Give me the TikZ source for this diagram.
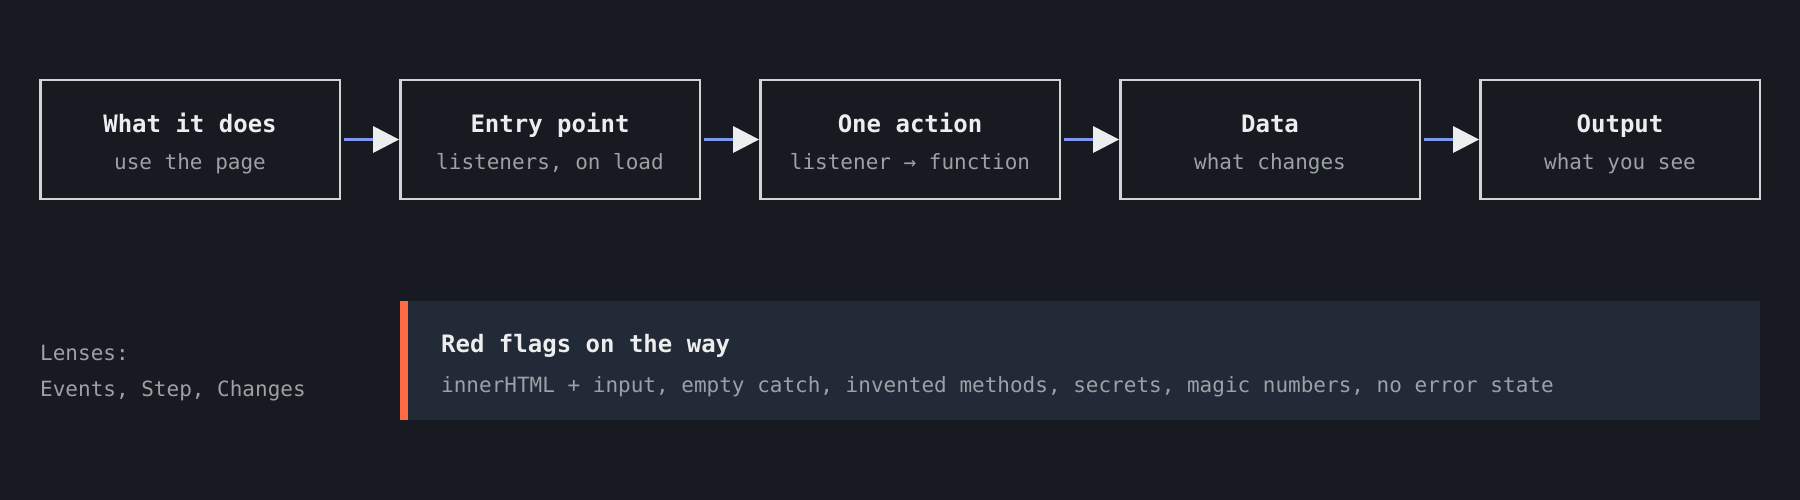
\documentclass[tikz,border=0pt]{standalone}
\usepackage{fontspec}
\setmainfont{DejaVu Sans Mono}
\usepackage{tikz}
\usetikzlibrary{arrows.meta,positioning}
\usepackage{xcolor}
\definecolor{bgdark}{RGB}{23,26,32}
\definecolor{panelblue}{RGB}{34,42,56}
\definecolor{flagorange}{RGB}{255,107,69}
\definecolor{linkblue}{RGB}{126,152,240}
\definecolor{boxline}{RGB}{210,212,214}
\definecolor{textlight}{RGB}{236,237,238}
\definecolor{textgray}{RGB}{156,161,166}

\begin{document}
\begin{tikzpicture}[x=1pt, y=-1pt,
  stagebox/.style={draw=boxline, line width=2.5pt, minimum width=#1,
                   minimum height=118.5pt, inner sep=0pt},
  stagebox/.default=299.5pt,
  title/.style={font=\bfseries\fontsize{24}{28}\selectfont, text=textlight,
                inner sep=0pt, anchor=base},
  sub/.style={font=\fontsize{21}{26}\selectfont, text=textgray,
              inner sep=0pt, anchor=base},
  link/.style={-{Triangle[length=26pt, width=27pt, line width=0pt, color=textlight]},
               line width=3.5pt, linkblue, shorten <=3pt}
]
\fill[bgdark] (0,0) rectangle (1800,500);

% pipeline
\node[stagebox]         (does)   at (190,139.5)  {};
\node[stagebox]         (entry)  at (550,139.5)  {};
\node[stagebox]         (action) at (910,139.5)  {};
\node[stagebox]         (data)   at (1270,139.5) {};
\node[stagebox=279.5pt] (output) at (1620,139.5) {};

\foreach \nd/\hd/\sb in {does/What it does/use the page,
                          {entry/Entry point/listeners, on load},
                          action/One action/listener → function,
                          data/Data/what changes,
                          output/Output/what you see} {
  \node[title] (\nd-title) at ([yshift=6.5pt]\nd.center)   {\hd};
  \node[sub]   (\nd-sub)   at ([yshift=-30pt]\nd.center) {\sb};
}

\foreach \from/\to in {does/entry, entry/action, action/data, data/output}
  \draw[link] (\from.east) -- (\to.west);

% lenses + red flags
\node[sub, anchor=base west] (lenses)    at (40,360) {Lenses:};
\node[sub, anchor=base west] (lens-list) at (40,396) {Events, Step, Changes};

\node[fill=panelblue, minimum width=1360pt, minimum height=119pt, inner sep=0pt]
  (flags) at (1080,360.5) {};
\fill[flagorange] (flags.north west) rectangle ([xshift=8pt]flags.south west);
\node[title, anchor=base west] (flags-title) at (441,352) {Red flags on the way};
\node[sub, anchor=base west]   (flags-list)  at (441,392)
  {innerHTML + input, empty catch, invented methods, secrets, magic numbers, no error state};
\end{tikzpicture}
\end{document}
